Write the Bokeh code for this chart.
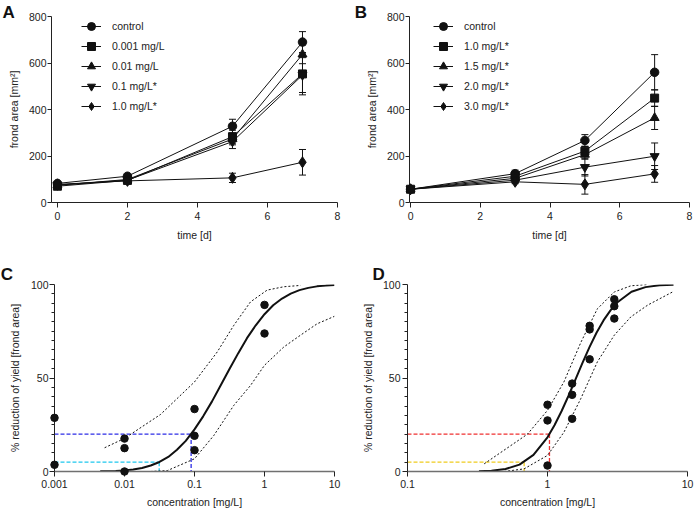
from bokeh.plotting import figure
from bokeh.models import (Legend, LegendItem, FixedTicker, Whisker, ColumnDataSource,
                          CustomJSTickFormatter, Range1d, TeeHead)
from bokeh.layouts import row, column
from bokeh.embed import file_html
from bokeh.resources import INLINE
from bokeh.core.properties import value

FONT = "Liberation Sans"
TXT = "#222222"

# ---------------- Panel A: frond area over time ----------------
a_days = [0, 2, 5, 7]
a_names = ["control", "0.001 mg/L", "0.01 mg/L", "0.1 mg/L*", "1.0 mg/L*"]
a_control = [82, 113, 328, 690]
a_control_sd = [6, 6, 30, 45]
a_0001 = [70, 95, 283, 553]
a_0001_sd = [5, 6, 28, 90]
a_001 = [74, 99, 273, 637]
a_001_sd = [5, 6, 25, 40]
a_01 = [75, 96, 262, 548]
a_01_sd = [5, 5, 30, 75]
a_1 = [78, 93, 106, 173]
a_1_sd = [5, 6, 20, 55]

# ---------------- Panel B ----------------
b_days = [0, 3, 5, 7]
b_names = ["control", "1.0 mg/L*", "1.5 mg/L*", "2.0 mg/L*", "3.0 mg/L*"]
b_control = [57, 124, 267, 560]
b_control_sd = [4, 15, 25, 76]
b_10 = [57, 113, 221, 449]
b_10_sd = [4, 12, 20, 36]
b_15 = [57, 104, 206, 364]
b_15_sd = [4, 10, 20, 50]
b_20 = [57, 96, 152, 199]
b_20_sd = [4, 8, 38, 57]
b_30 = [57, 89, 78, 123]
b_30_sd = [4, 8, 42, 36]

markers = ["circle", "square", "triangle", "inverted_triangle", "diamond"]
marker_sizes = [8.5, 8, 9, 9, 11]

# ---------------- Panel C: dose response ----------------
c_conc = [0.001, 0.001, 0.01, 0.01, 0.01, 0.1, 0.1, 0.1, 1, 1]
c_inhib = [28.7, 3.6, 17.6, 12.5, 0, 33.4, 19.1, 11.4, 89.1, 73.8]
c_fit_x = [0.0045, 0.0056, 0.0075, 0.01, 0.0133, 0.0178, 0.0237, 0.0316, 0.0422, 0.0562,
           0.075, 0.1, 0.133, 0.178, 0.237, 0.316, 0.422, 0.562, 0.75, 1.0, 1.33, 1.78,
           2.37, 3.16, 4.22, 5.62, 7.5, 10]
c_fit_y = [0.1, 0.2, 0.3, 0.6, 1.1, 1.9, 3.2, 5.1, 7.8, 11.6, 16.4, 22.5, 29.5, 37.5, 46.1,
           54.8, 63.3, 71.3, 78.2, 84.1, 88.9, 92.5, 95.1, 97.0, 98.2, 99.0, 99.4, 99.7]
c_up_x = [0.0052, 0.01, 0.0327, 0.1, 0.211, 0.365, 0.631, 1.09, 1.89, 3.27]
c_up_y = [12.7, 17.7, 30.5, 47.9, 63.9, 78.2, 90.7, 97.0, 98.8, 99.5]
c_lo_x = [0.0235, 0.041, 0.1, 0.189, 0.365, 0.631, 1.0, 1.89, 3.27, 5.65, 10]
c_lo_y = [0, 0.5, 6.8, 19.3, 35.4, 46.0, 56.8, 66.6, 72.9, 79.0, 83.0]
c_ec = [0.0313, 0.0895]
c_ec_levels = [5, 20]
c_ec_colors = ["#1ec8ee", "#2c2ce6"]

# ---------------- Panel D ----------------
d_conc = [1, 1, 1, 1.5, 1.5, 1.5, 2, 2, 2, 3, 3, 3]
d_inhib = [35.7, 27.3, 3.2, 47, 41, 28.2, 77.9, 76, 60, 92.1, 88.4, 81.8]
d_fit_x = [0.324, 0.398, 0.501, 0.631, 0.794, 1.0, 1.122, 1.259, 1.413, 1.585, 1.778,
           1.995, 2.239, 2.512, 2.818, 3.162, 3.981, 5.012, 6.31, 7.943]
d_fit_y = [0.1, 0.4, 1.3, 3.7, 8.9, 18.3, 24.7, 32.2, 40.5, 49.3, 58.1, 66.5, 74.2, 80.8,
           86.2, 90.5, 96.1, 98.6, 99.6, 99.9]
d_up_x = [0.353, 0.72, 1.0, 1.31, 1.73, 2.27, 3.0, 3.94, 5.2]
d_up_y = [4.1, 20, 32.7, 47.9, 69, 87, 96, 99.3, 100]
d_lo_x = [0.49, 0.68, 1.0, 1.31, 1.73, 2.27, 3.0, 3.94, 5.2, 8.0]
d_lo_y = [0, 1.4, 8.6, 21, 39, 58.6, 72.9, 82.7, 89, 96.4]
d_ec = [0.681, 1.033]
d_ec_levels = [5, 20]
d_ec_colors = ["#f0cc1e", "#f03030"]


def style_axes(p, xlab, ylab, x_tick_stand, x_stand, y_tick_stand, y_stand):
    for ax in (p.xaxis[0], p.yaxis[0]):
        ax.axis_line_color = "#222222"
        ax.axis_line_width = 1
        ax.major_tick_line_color = "#222222"
        ax.major_tick_in = 0
        ax.minor_tick_line_color = None
        ax.major_label_text_font = FONT
        ax.major_label_text_font_size = "10.5px"
        ax.major_label_text_color = TXT
        ax.axis_label_text_font = FONT
        ax.axis_label_text_font_size = "10.5px"
        ax.axis_label_text_font_style = "normal"
        ax.axis_label_text_color = TXT
    p.xaxis[0].major_tick_out = 5
    p.yaxis[0].major_tick_out = 4
    p.xaxis[0].major_label_standoff = x_tick_stand
    p.yaxis[0].major_label_standoff = y_tick_stand
    p.xaxis[0].axis_label = xlab
    p.yaxis[0].axis_label = ylab
    p.xaxis[0].axis_label_standoff = x_stand
    p.yaxis[0].axis_label_standoff = y_stand
    p.xgrid.visible = False
    p.ygrid.visible = False
    p.outline_line_color = None


def panel_letter(p, letter, x, y):
    r = p.text(x=[x], y=[y], text=[letter], text_font=value(FONT), text_font_style="bold",
               text_font_size="17px", text_color="#111111", text_baseline="top",
               text_align="left")
    r.level = "overlay"


def time_panel(days, names, series, sds, x_start, left, right, letter, lab_x, leg_x):
    p = figure(width=347, height=255, x_range=Range1d(x_start, 8), y_range=Range1d(0, 800),
               output_backend="svg", toolbar_location=None,
               min_border_left=left, min_border_right=right, min_border_top=16,
               min_border_bottom=53)
    style_axes(p, "time [d]", "frond area [mm²]", 4, 6, 1, 6)
    p.xaxis[0].ticker = FixedTicker(ticks=[0, 2, 4, 6, 8])
    p.yaxis[0].ticker = FixedTicker(ticks=[0, 200, 400, 600, 800])
    items = []
    for name, ys, sd, mk, ms in zip(names, series, sds, markers, marker_sizes):
        src = ColumnDataSource(dict(x=days, y=ys,
                                    lo=[a - b for a, b in zip(ys, sd)],
                                    hi=[a + b for a, b in zip(ys, sd)]))
        w = Whisker(source=src, base="x", upper="hi", lower="lo", line_color="#111111",
                    line_width=1,
                    upper_head=TeeHead(size=7, line_color="#111111", line_width=1),
                    lower_head=TeeHead(size=7, line_color="#111111", line_width=1))
        p.add_layout(w)
        rl = p.line("x", "y", source=src, line_color="#111111", line_width=1)
        rs = p.scatter("x", "y", source=src, marker=mk, size=ms, fill_color="#111111",
                       line_color="#111111")
        rs.level = "overlay"
        items.append(LegendItem(label=name, renderers=[rl, rs]))
    leg = Legend(items=items, location=(leg_x, 86), border_line_color=None,
                 background_fill_alpha=0, padding=0, margin=0, spacing=0,
                 glyph_width=20, glyph_height=20, label_height=20, label_standoff=11,
                 label_text_font=FONT, label_text_font_size="10.5px",
                 label_text_color=TXT)
    p.add_layout(leg)
    panel_letter(p, letter, lab_x, 856)
    return p


def dose_panel(x0, x1, ticks, conc, inhib, fx, fy, ux, uy, lx, ly, ecs, levels, colors,
               left, right, letter, lab_x, y_tick_stand, y_stand):
    p = figure(width=347, height=255, x_axis_type="log", x_range=Range1d(x0, x1),
               y_range=Range1d(0, 100), output_backend="svg", toolbar_location=None,
               min_border_left=left, min_border_right=right, min_border_top=29,
               min_border_bottom=39)
    style_axes(p, "concentration [mg/L]", "% reduction of yield [frond area]",
               3, 5, y_tick_stand, y_stand)
    p.xaxis[0].ticker = FixedTicker(ticks=ticks, minor_ticks=[])
    p.xaxis[0].formatter = CustomJSTickFormatter(code="return tick.toString();")
    p.xaxis[0].axis_line_color = "#707070"
    p.xaxis[0].axis_line_width = 1.6
    p.yaxis[0].major_tick_out = 5
    p.yaxis[0].ticker = FixedTicker(ticks=[0, 50, 100], minor_ticks=list(range(5, 100, 5)))
    p.yaxis[0].minor_tick_line_color = "#222222"
    p.yaxis[0].minor_tick_out = 3
    p.yaxis[0].minor_tick_in = 0
    for ec, lv, col in zip(ecs, levels, colors):
        p.line([x0, ec], [lv, lv], line_color=col, line_width=1.3, line_dash="4 2")
        p.line([ec, ec], [lv, 0], line_color=col, line_width=1.3, line_dash="4 2")
    p.line(ux, uy, line_color="#111111", line_width=1, line_dash="2 2")
    p.line(lx, ly, line_color="#111111", line_width=1, line_dash="2 2")
    p.line(fx, fy, line_color="#111111", line_width=2)
    rs = p.scatter(conc, inhib, marker="circle", size=7.5, fill_color="#111111",
                   line_color="#111111")
    rs.level = "overlay"
    panel_letter(p, letter, lab_x, 110.5)
    return p


pA = time_panel(a_days, a_names, [a_control, a_0001, a_001, a_01, a_1],
                [a_control_sd, a_0001_sd, a_001_sd, a_01_sd, a_1_sd],
                -0.17, 51, 10, "A", -1.57, 30)
pB = time_panel(b_days, b_names, [b_control, b_10, b_15, b_20, b_30],
                [b_control_sd, b_10_sd, b_15_sd, b_20_sd, b_30_sd],
                -0.03, 62, 5, "B", -1.6, 24)
pC = dose_panel(0.001, 10, [0.001, 0.01, 0.1, 1, 10], c_conc, c_inhib, c_fit_x, c_fit_y,
                c_up_x, c_up_y, c_lo_x, c_lo_y, c_ec, c_ec_levels, c_ec_colors,
                54, 13, "C", 0.00017, 1, 7)
pD = dose_panel(0.1, 10, [0.1, 1, 10], d_conc, d_inhib, d_fit_x, d_fit_y,
                d_up_x, d_up_y, d_lo_x, d_lo_y, d_ec, d_ec_levels, d_ec_colors,
                60, 7, "D", 0.0562, 2, 6)

layout = column(row(pA, pB), row(pC, pD))
open("out.html", "w").write(file_html(layout, INLINE))
